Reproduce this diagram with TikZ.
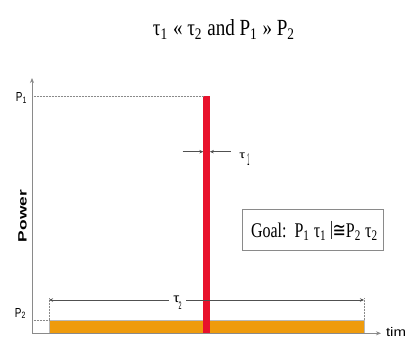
\documentclass[tikz,border=0pt]{standalone}
\usepackage{fontspec}
\usepackage{graphicx}
\setmainfont{Liberation Serif}
\setsansfont{Liberation Sans}
\newfontfamily\mysymfont{DejaVu Sans}
\usetikzlibrary{arrows.meta}
\definecolor{barred}{HTML}{E8122C}
\definecolor{barorange}{HTML}{EF9B0C}
\definecolor{axisgray}{HTML}{8A8A8A}
\definecolor{dimgray}{HTML}{505050}
% tall narrow sans tau with stretched subscript: #1 tau w, #2 tau h, #3 gap, #4 sub w, #5 sub h, #6 sub drop, #7 digit
\newcommand\mytaulab[7]{\sffamily\resizebox{#1}{#2}{τ}\hspace{#3}\raisebox{-#6}{\resizebox{#4}{#5}{#7}}}
\begin{document}
\begin{tikzpicture}[x=1pt,y=-1pt,
  axis/.style={draw=axisgray,line width=0.9pt,-{Stealth[length=5pt,width=4pt]}},
  guide/.style={draw=axisgray,line width=0.5pt,densely dotted},
  dimline/.style={draw=dimgray,line width=0.7pt,-{Stealth[length=4pt,width=3.5pt]}},
  lbl/.style={inner sep=0pt,outer sep=0pt}]
\useasboundingbox (0,0) rectangle (406,339);
\clip (0,0) rectangle (406,339);
\fill[white] (0,0) rectangle (406,339);

% coordinates
\coordinate (O) at (32,333.3);
\coordinate (ytop) at (32,78);
\coordinate (xend) at (381,333.3);
\coordinate (p1y) at (32,96);
\coordinate (p1x) at (203.3,96);
\coordinate (p2y) at (32,320);
\coordinate (p2x) at (49,320);

% title
\node[lbl,anchor=base] (title) at (224,36)
  {\resizebox{142pt}{16pt}{τ\textsubscript{1} « τ\textsubscript{2} and P\textsubscript{1} » P\textsubscript{2}}};

% bars
\fill[barorange] (49,320) rectangle (364,332.7);
\draw[axisgray!60,line width=0.3pt] (49,320) rectangle (364,332.7);
\node[lbl,fill=barred,minimum width=6.5pt,minimum height=237pt,anchor=north] (redbar) at (206.6,96) {};

% guides
\draw[guide] (p1y) -- (p1x);
\draw[guide] (p2y) -- (p2x);
\draw[guide] (49,298) -- (49,320);
\draw[guide] (364,298) -- (364,320);

% axes
\draw[axis] (O) -- (ytop);
\draw[axis] (O) -- (xend);

% tau1 dimension
\coordinate (t1a) at (182.7,151.7);
\coordinate (t1b) at (230.7,151.7);
\draw[dimline] (t1a) -- (redbar.west |- t1a);
\draw[dimline] (t1b) -- (redbar.east |- t1b);
\node[lbl,anchor=base west] (tau1) at (239.3,158.3)
  {\mytaulab{5.7pt}{5.6pt}{2.4pt}{2pt}{11.7pt}{6.7pt}{1}};

% tau2 dimension
\coordinate (t2a) at (49,300);
\coordinate (t2b) at (364,300);
\node[lbl,anchor=base west,fill=white,inner xsep=4.5pt,inner ysep=1pt] (tau2) at (168.8,302.3)
  {\mytaulab{6pt}{6.6pt}{-0.6pt}{3pt}{7.6pt}{7pt}{2}};
\draw[dimline] (tau2.west |- t2a) -- (t2a);
\draw[dimline] (tau2.east |- t2b) -- (t2b);

% axis labels
\node[lbl,anchor=base west] (P1) at (16,101.7)
  {\sffamily\resizebox{11pt}{9pt}{P\textsubscript{1}}};
\node[lbl,anchor=base west] (P2) at (15,317)
  {\sffamily\resizebox{11pt}{9pt}{P\textsubscript{2}}};
\node[lbl] (power) at (22.5,216)
  {\rotatebox{90}{\resizebox{52pt}{8.3pt}{\sffamily\bfseries Power}}};
\node[lbl,anchor=base west] (time) at (386,336.3)
  {\sffamily\scalebox{1.2}[1]{\fontsize{12.5}{12.5}\selectfont time}};

% goal box
\draw[axisgray,line width=0.7pt] (242.7,209.3) rectangle (383.3,250.7);
\node[lbl,anchor=base west] (goal) at (251,237.7)
  {\resizebox{127pt}{14.5pt}{Goal:\ \ P\textsubscript{1} τ\textsubscript{1} \hspace{0.12em}{\mysymfont ≅}P\textsubscript{2} τ\textsubscript{2}}};
\coordinate (cursA) at (330.8,220.5);
\coordinate (cursB) at (330.8,239);
\draw[black!80,line width=0.5pt] (cursA) -- (cursB);
\end{tikzpicture}
\end{document}
